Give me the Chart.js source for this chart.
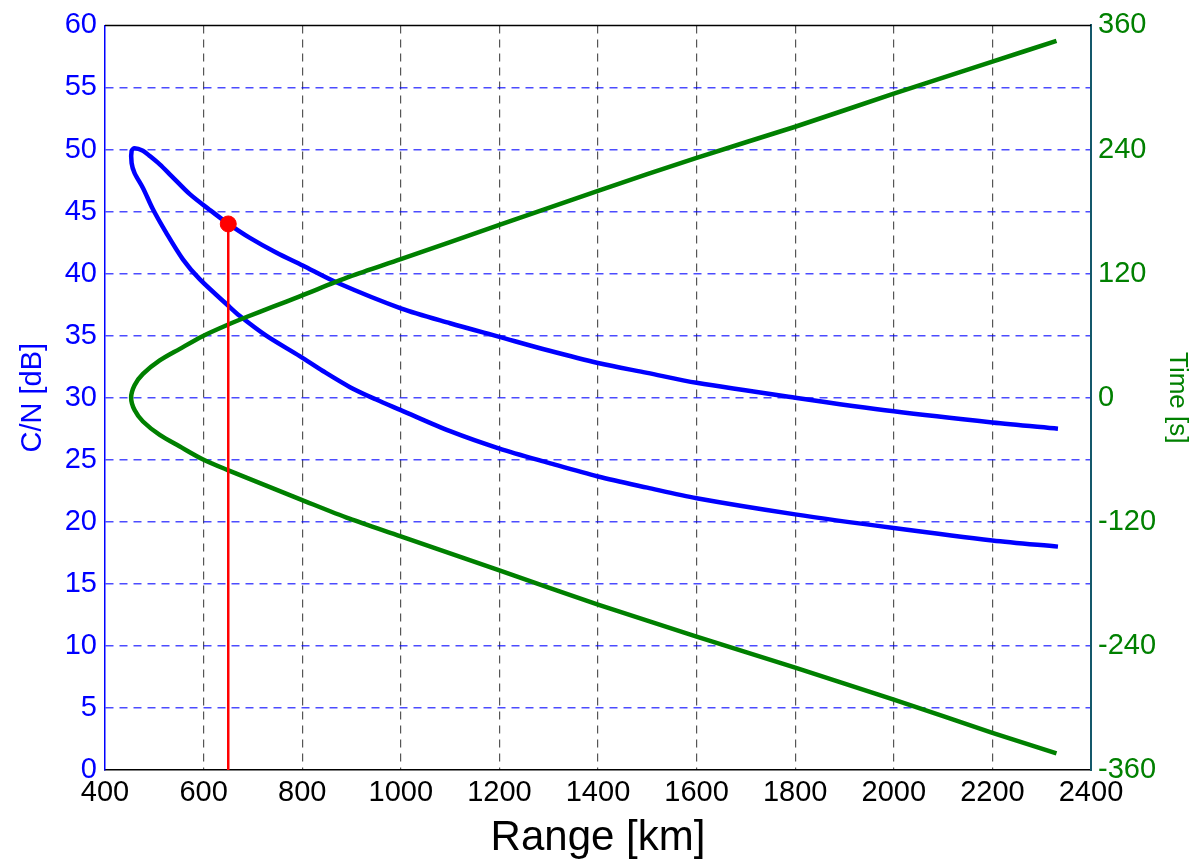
<!DOCTYPE html>
<html>
<head>
<meta charset="utf-8">
<title>C/N and time vs range</title>
<script src="https://cdn.jsdelivr.net/npm/chart.js@4/dist/chart.umd.min.js"></script>
<style>
body{margin:0;background:#fff}
canvas{display:block}
</style>
</head>
<body>
<canvas id="passChart" width="1191" height="862"></canvas>
<script>
// ===== DATA =====
// C/N loop: falling branch from far range to closest approach, then the other branch back out
const cnRange = [2333, 2200, 2000, 1800, 1600, 1500, 1400, 1300, 1200, 1100, 1000, 950, 897, 842, 795, 727, 673, 649, 592, 558, 524, 497, 477, 460, 454, 454, 460, 477, 490, 511, 534, 572, 612, 649, 693, 747, 801, 869, 1000, 1100, 1200, 1300, 1400, 1500, 1600, 1800, 2000, 2200, 2333]
const cnValue = [18.0, 18.5, 19.5, 20.6, 21.9, 22.75, 23.65, 24.75, 25.9, 27.3, 29.0, 29.85, 30.85, 32.15, 33.35, 35.0, 36.6, 37.45, 39.55, 41.15, 43.3, 45.2, 46.9, 48.1, 48.9, 49.9, 50.1, 49.9, 49.5, 48.8, 47.9, 46.4, 45.15, 44.05, 42.9, 41.7, 40.65, 39.3, 37.2, 36.0, 34.9, 33.8, 32.8, 32.0, 31.2, 30.0, 28.9, 28.0, 27.5]

// pass time against range
const timeRange = [2330, 2200, 2000, 1800, 1600, 1400, 1200, 1000, 896, 795, 727, 649, 598, 551, 511, 477, 460, 453, 460, 477, 511, 551, 598, 649, 687, 741, 795, 896, 1000, 1200, 1400, 1600, 1800, 2000, 2200, 2330]
const timeValue = [-344, -324, -292, -261, -231, -200, -167, -134, -117, -98, -85, -70, -59.5, -47, -36, -23, -12, 0, 12, 23, 36, 47, 59.5, 70.5, 78, 88, 98, 117, 134, 167, 200, 232, 262, 294, 325, 345]

// selected operating point
const markerRange = 650
const markerCN = 44

// axis ticks
const rangeTicks = {min:400, max:2400, step:200}
const cnTicks = {min:0, max:60, step:5}
const timeTicks = {min:-360, max:360, step:120}


function toPoints(xs, ys){
return xs.map((x,i)=>({x:x, y:ys[i]}))
}

const FONT = "'Liberation Sans', Arial, Helvetica, sans-serif"

// ===== TOP FRAME LINE =====
const frameTop = {
id:"frameTop",
afterDraw(chart){
const a = chart.chartArea
const ctx = chart.ctx
ctx.save()
ctx.strokeStyle = "#000"
ctx.lineWidth = 1.5
ctx.beginPath()
ctx.moveTo(a.left, a.top)
ctx.lineTo(a.right, a.top)
ctx.stroke()
ctx.restore()
}
}

const plainTick = v => String(v)

// ===== CHART =====
const ctx = document.getElementById("passChart")

new Chart(ctx,{
type:"scatter",
data:{
datasets:[
{
label:"marker",
data:[{x:markerRange, y:markerCN}],
yAxisID:"y",
pointRadius:8,
pointBackgroundColor:"#ff0000",
pointBorderColor:"#ff0000",
showLine:false,
order:0
},
{
label:"stem",
data:[{x:markerRange, y:0},{x:markerRange, y:markerCN}],
yAxisID:"y",
showLine:true,
borderColor:"#ff0000",
borderWidth:2.5,
pointRadius:0,
order:1
},
{
label:"Time",
data:toPoints(timeRange, timeValue),
yAxisID:"y1",
showLine:true,
borderColor:"#008000",
borderWidth:4.5,
pointRadius:0,
tension:0.3,
order:2
},
{
label:"C/N",
data:toPoints(cnRange, cnValue),
yAxisID:"y",
showLine:true,
borderColor:"#0000ff",
borderWidth:4.5,
pointRadius:0,
tension:0.3,
order:3
}
]
},
options:{
responsive:false,
animation:false,
layout:{padding:{top:22, left:0, right:0, bottom:0}},
plugins:{legend:{display:false}, tooltip:{enabled:false}},
scales:{
x:{
type:"linear",
position:"bottom",
min:rangeTicks.min,
max:rangeTicks.max,
afterFit(s){ s.height = 92 },
ticks:{stepSize:rangeTicks.step, color:"#000", padding:6, maxRotation:0, callback:plainTick, font:{family:FONT, size:29}},
grid:{
drawTicks:false,
lineWidth:1.2,
color:c => (c.tick && (c.tick.value===rangeTicks.min || c.tick.value===rangeTicks.max)) ? "rgba(0,0,0,0)" : "#555555"
},
border:{color:"#000", width:1.5, dash:[8,6]},
title:{display:true, text:"Range [km]", color:"#000", font:{family:FONT, size:42, lineHeight:1}, padding:{top:0, bottom:3}}
},
y:{
type:"linear",
position:"left",
min:cnTicks.min,
max:cnTicks.max,
afterFit(s){ s.width = 105 },
ticks:{stepSize:cnTicks.step, color:"#0000ff", padding:8, callback:plainTick, font:{family:FONT, size:29}},
grid:{
drawTicks:false,
lineWidth:1.6,
color:c => (c.tick && (c.tick.value===cnTicks.min || c.tick.value===cnTicks.max)) ? "rgba(0,0,0,0)" : "rgba(0,0,255,0.7)"
},
border:{color:"#0000ff", width:1.5, dash:[8,6]},
title:{display:true, text:"C/N [dB]", color:"#0000ff", font:{family:FONT, size:29, lineHeight:1}, padding:{top:18, bottom:0}}
},
y1:{
type:"linear",
position:"right",
min:timeTicks.min,
max:timeTicks.max,
afterFit(s){ s.width = 100 },
ticks:{stepSize:timeTicks.step, color:"#008000", padding:7, callback:plainTick, font:{family:FONT, size:29}},
grid:{drawOnChartArea:false, drawTicks:false},
border:{color:"#14586b", width:2},
title:{display:true, text:"Time [s]", color:"#008000", font:{family:FONT, size:26, lineHeight:1}, padding:{top:1, bottom:0}}
}
}
},
plugins:[frameTop]
})
</script>
</body>
</html>
